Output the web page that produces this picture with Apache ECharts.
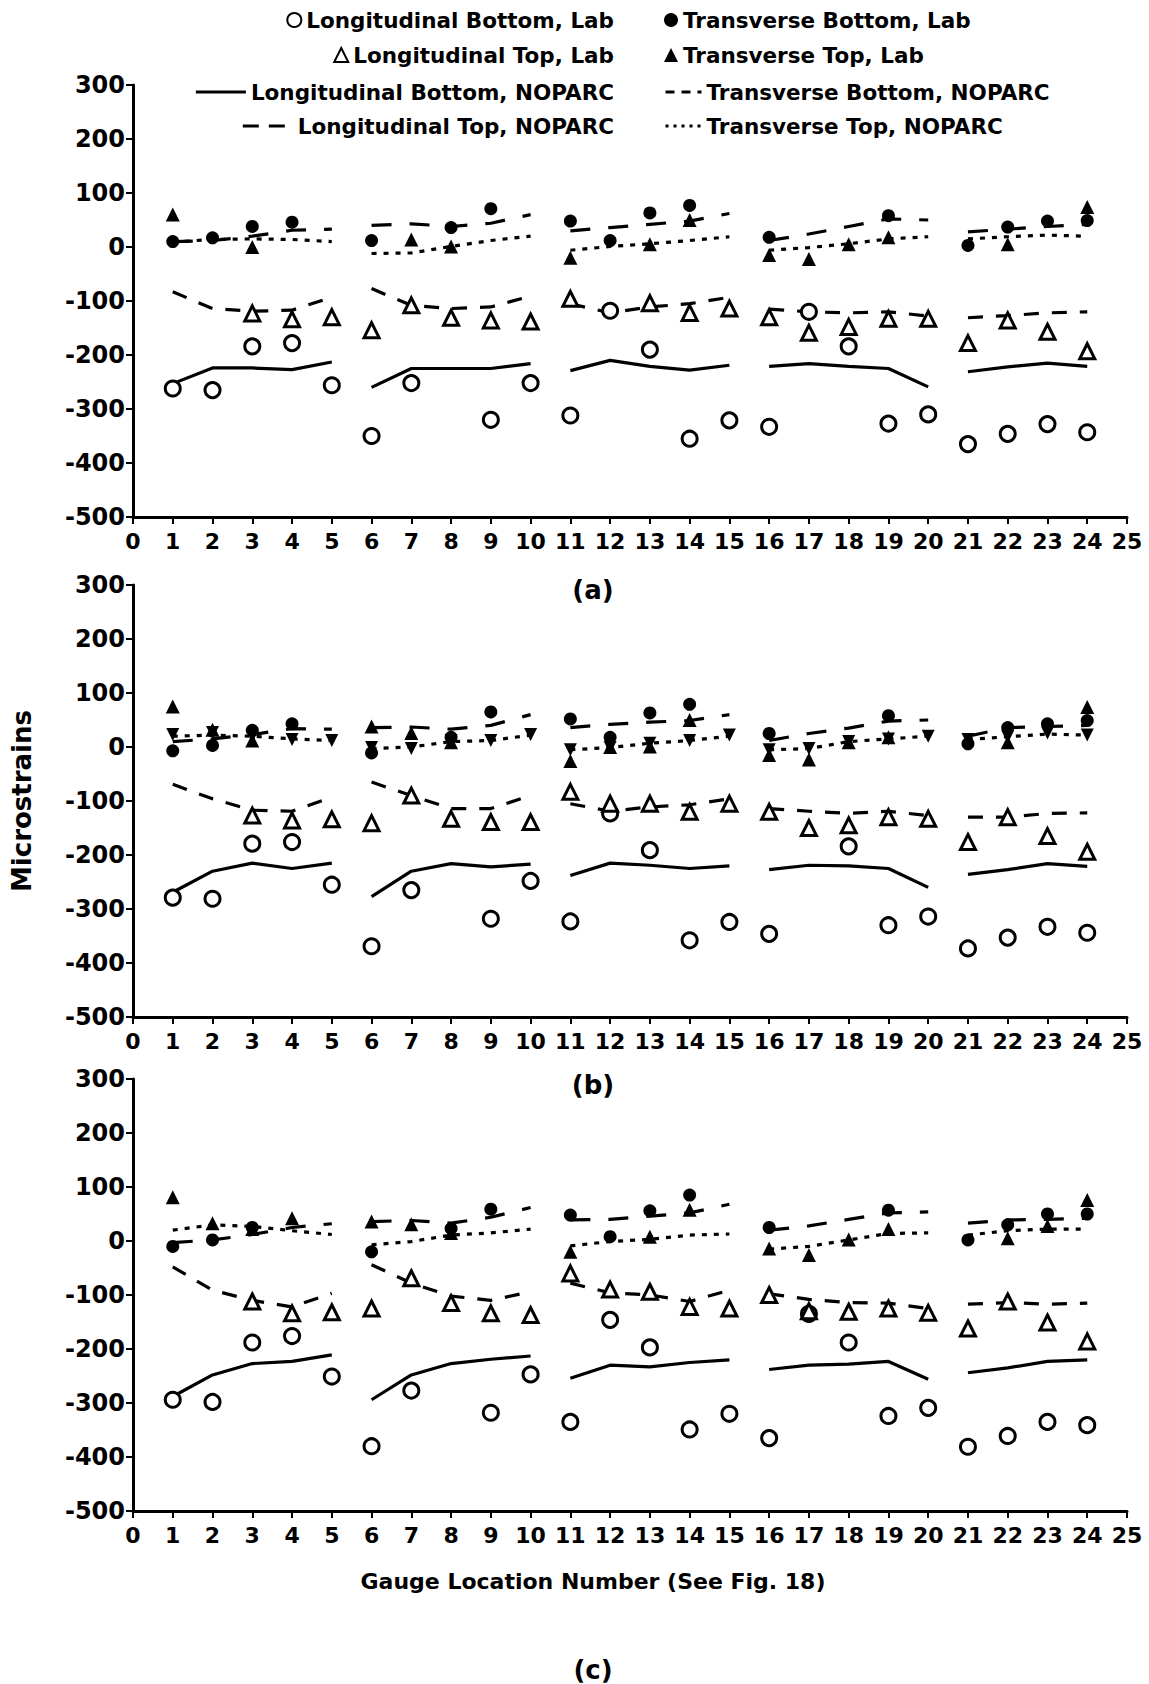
<!DOCTYPE html>
<html><head><meta charset="utf-8">
<script src="https://cdn.jsdelivr.net/npm/echarts@6/dist/echarts.min.js"></script>
<style>html,body{margin:0;padding:0;background:#fff}#c{width:1149px;height:1684px}</style>
</head><body><div id="c"></div>
<script>
const gauges = [1,2,3,4,5,6,7,8,9,10,11,12,13,14,15,16,17,18,19,20,21,22,23,24];
const xTicks = [0,1,2,3,4,5,6,7,8,9,10,11,12,13,14,15,16,17,18,19,20,21,22,23,24,25];
const yTicks = [-500,-400,-300,-200,-100,0,100,200,300];
const segmentEnds = [5,10,15,20];
const names = ['Longitudinal Bottom, Lab','Transverse Bottom, Lab','Longitudinal Top, Lab','Transverse Top, Lab',
  'Longitudinal Bottom, NOPARC','Transverse Bottom, NOPARC','Longitudinal Top, NOPARC','Transverse Top, NOPARC'];
const panelLabels = ['(a)','(b)','(c)'];
const xTitle = 'Gauge Location Number (See Fig. 18)';
const yTitle = 'Microstrains';

// Panel (a)
const aLongBotLab = [-262,-265,-184,-178,-256,-350,-252,null,-320,-252,-312,-118,-190,-355,-321,-333,-120,-184,-327,-310,-365,-346,-328,-343];
const aTransBotLab = [10,17,38,46,null,12,null,36,71,null,48,12,63,77,null,18,null,null,58,null,3,37,48,49];
const aLongTopLab = [null,null,-123,-134,-130,-154,-108,-131,-136,-138,-96,null,-104,-122,-114,-130,-159,-148,-133,-133,-178,-136,-157,-193];
const aTransTopLab = [60,null,0,null,null,null,14,1,null,null,-20,null,5,50,null,-15,-22,5,18,null,null,5,null,74];
const aLongBotNop = [-253,-224,-224,-227,-213,-260,-225,-225,-225,-216,-229,-210,-221,-228,-219,-221,-216,-221,-225,-259,-231,-222,-215,-221];
const aTransBotNop = [10,12,20,31,33,40,43,38,44,60,30,36,42,48,62,12,24,38,52,50,28,33,38,42];
const aLongTopNop = [-83,-114,-119,-117,-93,-77,-108,-114,-111,-91,-105,-122,-111,-105,-93,-115,-120,-122,-120,-128,-131,-127,-122,-120];
const aTransTopNop = [9,14,15,14,10,-12,-11,1,12,20,-6,1,6,12,19,-6,-1,6,15,19,15,19,22,20];

// Panel (b)
const bLongBotLab = [-279,-281,-179,-176,-255,-369,-265,null,-318,-248,-323,-123,-191,-358,-324,-346,null,-184,-330,-314,-373,-353,-333,-344];
const bTransBotLab = [-7,3,31,43,null,-11,null,18,65,null,52,18,63,79,null,25,null,null,58,null,6,36,43,49];
const bLongTopLab = [null,null,-127,-136,-134,-141,-90,-133,-139,-139,-83,-105,-105,-120,-105,-120,-150,-145,-130,-133,-176,-130,-165,-194];
const bTransTopLab = [75,32,12,null,null,38,26,9,null,null,-26,0,1,50,null,-15,-23,9,18,null,null,9,null,74];
const bLongBotNop = [-269,-230,-215,-225,-215,-277,-230,-216,-222,-217,-238,-215,-219,-225,-220,-227,-219,-220,-225,-260,-236,-227,-216,-221];
const bTransBotNop = [10,15,23,34,33,36,37,33,40,60,36,42,46,49,60,12,25,35,48,50,20,36,38,40];
const bLongTopNop = [-69,-96,-117,-119,-93,-65,-90,-114,-114,-90,-105,-119,-111,-107,-96,-114,-119,-123,-119,-127,-130,-130,-123,-122];
const bTransTopNop = [20,22,20,15,12,-3,0,10,12,22,-5,-1,7,12,20,-5,-3,10,15,20,14,19,24,22];
const bInvTri = [23,27,20,14,12,-1,-3,12,12,23,-5,-1,7,12,22,-5,-3,10,15,20,14,19,26,22];

// Panel (c)
const cLongBotLab = [-294,-298,-188,-176,-251,-380,-277,null,-318,-247,-335,-146,-197,-349,-320,-365,-135,-188,-324,-309,-381,-361,-335,-341];
const cTransBotLab = [-10,2,25,null,null,-20,null,23,59,null,48,8,56,85,null,25,null,null,57,null,2,30,50,50];
const cLongTopLab = [null,null,-112,-134,-132,-125,-69,-115,-134,-137,-60,-90,-94,-122,-125,-100,-130,-131,-125,-133,-162,-112,-151,-186];
const cTransTopLab = [81,33,22,42,null,36,31,15,null,null,-20,null,8,58,null,-14,-26,3,22,null,null,5,28,76];
const cLongBotNop = [-288,-248,-227,-223,-211,-294,-248,-227,-219,-213,-254,-230,-233,-225,-220,-238,-230,-228,-223,-256,-244,-235,-223,-220];
const cTransBotNop = [-3,2,12,25,32,36,38,33,44,62,39,40,46,52,68,20,28,40,52,54,33,39,40,42];
const cLongTopNop = [-48,-91,-110,-122,-97,-44,-78,-102,-110,-94,-78,-96,-100,-112,-91,-98,-108,-114,-115,-125,-117,-114,-117,-115];
const cTransTopNop = [20,30,27,19,12,-7,-1,11,15,22,-9,-1,3,11,13,-15,-10,2,14,15,11,19,22,22];

const panels = [
  {lab:[aLongBotLab,aTransBotLab,aLongTopLab,aTransTopLab], nop:[aLongBotNop,aTransBotNop,aLongTopNop,aTransTopNop], inv:null},
  {lab:[bLongBotLab,bTransBotLab,bLongTopLab,bTransTopLab], nop:[bLongBotNop,bTransBotNop,bLongTopNop,bTransTopNop], inv:bInvTri},
  {lab:[cLongBotLab,cTransBotLab,cLongTopLab,cTransTopLab], nop:[cLongBotNop,cTransBotNop,cLongTopNop,cTransTopNop], inv:null}
];

function pts(arr){ const o=[]; arr.forEach((v,i)=>{ if(v!==null) o.push([gauges[i],v]); }); return o; }
function seg(arr){ const o=[]; arr.forEach((v,i)=>{ o.push([gauges[i],v]); if(segmentEnds.indexOf(gauges[i])>=0) o.push([gauges[i]+0.5,'-']); }); return o; }

const FONT = 'DejaVu Sans';
const gridTops = [85,585,1079];
const gridH = 432;
const labStyles = [
  {symbol:'circle', symbolSize:15, itemStyle:{color:'#fff', borderColor:'#000', borderWidth:3, opacity:1}},
  {symbol:'circle', symbolSize:13, itemStyle:{color:'#000', opacity:1}},
  {symbol:'triangle', symbolSize:15, itemStyle:{color:'#fff', borderColor:'#000', borderWidth:3, opacity:1}},
  {symbol:'triangle', symbolSize:14, itemStyle:{color:'#000', opacity:1}}
];
const nopStyles = [
  {type:'solid', legend:'solid'}, {type:[20,18], legend:[9,7]}, {type:[15,13], legend:[16,10]}, {type:[5,7], legend:[3,5]}
];

const grid=[], xAxis=[], yAxis=[], series=[];
panels.forEach((p,k)=>{
  grid.push({left:133, right:22, top:gridTops[k], height:gridH});
  xAxis.push({type:'value', gridIndex:k, min:xTicks[0], max:xTicks[xTicks.length-1], interval:xTicks[1]-xTicks[0],
    axisLine:{onZero:false, lineStyle:{color:'#000', width:3}},
    axisTick:{length:7, lineStyle:{color:'#000', width:2}},
    axisLabel:{color:'#000', fontFamily:FONT, fontWeight:'bold', fontSize:22, margin:13},
    splitLine:{show:false}});
  const ya = {type:'value', gridIndex:k, min:yTicks[0], max:yTicks[yTicks.length-1], interval:yTicks[1]-yTicks[0],
    axisLine:{show:true, lineStyle:{color:'#000', width:3}},
    axisTick:{show:true, length:7, lineStyle:{color:'#000', width:2}},
    axisLabel:{color:'#000', fontFamily:FONT, fontWeight:'bold', fontSize:24, margin:8},
    splitLine:{show:false}};
  if(k===1){ Object.assign(ya,{name:yTitle, nameLocation:'middle', nameGap:98, nameRotate:90,
    nameTextStyle:{color:'#000', fontFamily:FONT, fontWeight:'bold', fontSize:26}}); }
  yAxis.push(ya);
  p.nop.forEach((arr,j)=>{
    series.push({name:names[4+j], type:'line', xAxisIndex:k, yAxisIndex:k, data:seg(arr), symbol:'none',
      connectNulls:false, lineStyle:{color:'#000', width:3.2, type:nopStyles[j].type}, itemStyle:{color:'#000'}, z:2, silent:true, animation:false});
  });
  p.lab.forEach((arr,j)=>{
    series.push(Object.assign({name:names[j], type:'scatter', xAxisIndex:k, yAxisIndex:k, data:pts(arr), z:3, silent:true, animation:false}, JSON.parse(JSON.stringify(labStyles[j]))));
  });
  if(p.inv){
    series.push({name:'inv', type:'scatter', xAxisIndex:k, yAxisIndex:k, data:pts(p.inv), symbol:'triangle', symbolRotate:180,
      symbolSize:13, itemStyle:{color:'#000', opacity:1}, z:3, silent:true, animation:false});
  }
});

const legendRows = [9,44,81,115];
const legend = [];
names.forEach((n,i)=>{
  const isLab = i<4;
  const col = isLab ? (i%2) : ((i-4)%2);
  const row = isLab ? Math.floor(i/2) : 2+Math.floor((i-4)/2);
  const item = {name:n};
  if(!isLab){
    item.itemStyle = {opacity:0};
    item.lineStyle = {type:nopStyles[i-4].legend, width:3, color:'#000'};
  }
  const lg = {data:[item], orient:'horizontal', top:legendRows[row], padding:0, selectedMode:false,
    itemWidth: isLab?14:(col===0?50:36), itemHeight:14, itemGap:0,
    textStyle:{color:'#000', fontFamily:FONT, fontWeight:'bold', fontSize:21.5}};
  if(col===0){ lg.right = 535; lg.align='left'; } else { lg.left = 664; lg.align='left'; }
  legend.push(lg);
});

const title = [];
const labelTops = [572,1067];
const tStyle = {color:'#000', fontFamily:FONT, fontWeight:'bold', fontSize:26};
title.push({text:panelLabels[0], left:588, top:labelTops[0], textAlign:'center', textStyle:tStyle});
title.push({text:panelLabels[1], left:588, top:labelTops[1], textAlign:'center', textStyle:tStyle});
title.push({text:xTitle, left:588, top:1565, textAlign:'center', textStyle:{color:'#000', fontFamily:FONT, fontWeight:'bold', fontSize:22}});
title.push({text:panelLabels[2], left:588, top:1652, textAlign:'center', textStyle:tStyle});

const chart = echarts.init(document.getElementById('c'), null, {renderer:'svg'});
chart.setOption({animation:false, backgroundColor:'#fff', title, legend, grid, xAxis, yAxis, series});
</script></body></html>
